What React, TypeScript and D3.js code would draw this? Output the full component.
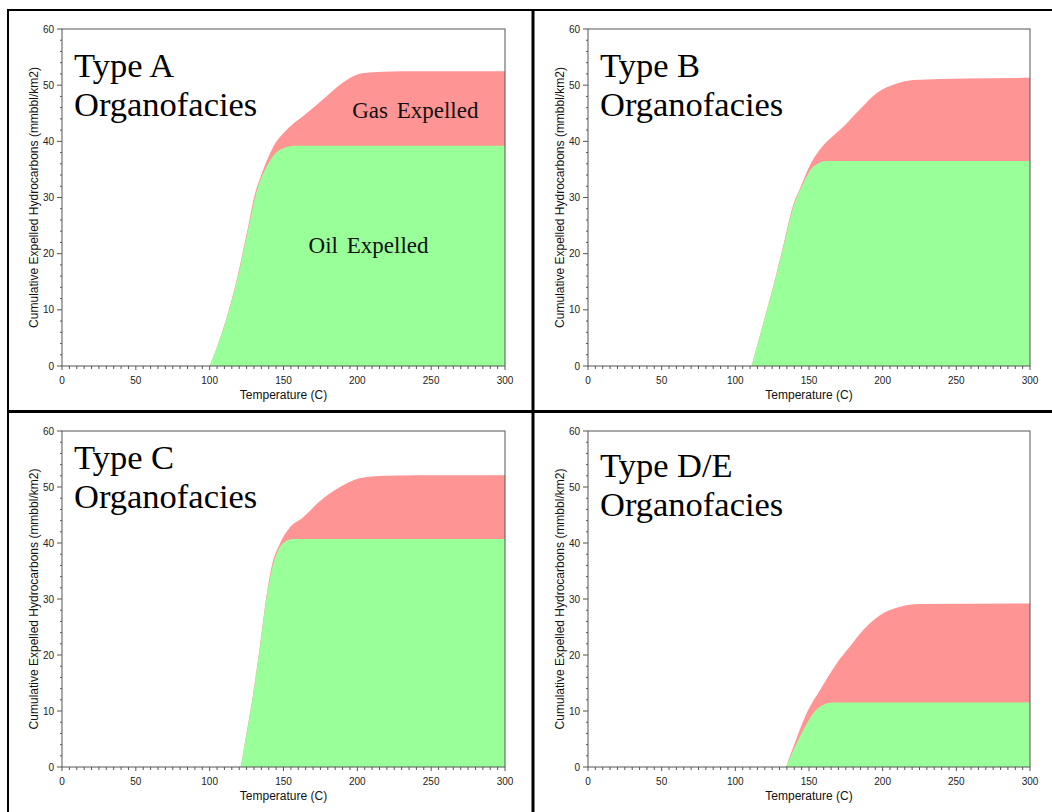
import React from "react";
import * as d3 from "d3";

// Axis ticks
const temperatureTicks = [0, 50, 100, 150, 200, 250, 300];
const hydrocarbonTicks = [0, 10, 20, 30, 40, 50, 60];

// Cumulative expelled oil and total (oil + gas) curves, [temperature °C, mmbbl/km2]
const typeAOil: [number, number][] = [
  [100, 0], [109, 6.4], [118, 14.7], [125, 23], [132, 31.3], [138.6, 35.5],
  [147.6, 38.5], [157.8, 39.2], [300, 39.2],
];
const typeATotal: [number, number][] = [
  [100, 0], [109, 6.5], [118, 15], [125, 23.5], [131, 31], [134, 33.3],
  [143, 39], [152, 42], [165.7, 45], [179, 48], [192.8, 50.9], [203, 52.1],
  [217.6, 52.4], [230, 52.5], [300, 52.5],
];

const typeBOil: [number, number][] = [
  [111, 0], [119, 7.6], [125.8, 14.1], [132.6, 21.2], [139.4, 28.4],
  [146.1, 32.5], [152.9, 35.5], [162, 36.5], [300, 36.5],
];
const typeBTotal: [number, number][] = [
  [111, 0], [119, 7.7], [125.8, 14.3], [132.6, 21.5], [139.4, 28.8],
  [143.9, 31.6], [150.7, 35.8], [157.5, 38.6], [166.5, 41], [173.3, 42.6],
  [184.6, 45.7], [196, 48.6], [209.6, 50.3], [220.9, 50.9], [257, 51.2], [300, 51.3],
];

const typeCOil: [number, number][] = [
  [121, 0], [125, 6], [129.6, 13.2], [134.1, 21.5], [138.6, 30.4], [142, 35.2],
  [146.5, 38.75], [152.2, 40.4], [156.6, 40.7], [300, 40.7],
];
const typeCTotal: [number, number][] = [
  [121, 0], [125, 6.1], [129.6, 13.4], [134.1, 21.8], [138.6, 30.8], [142, 35.8],
  [147.6, 39.9], [154.4, 42.8], [163.4, 44.6], [174.7, 47.5], [188.3, 50],
  [204, 51.7], [219.8, 52], [240, 52.1], [300, 52.1],
];

const typeDEOil: [number, number][] = [
  [134.4, 0], [139.4, 3], [146.1, 6.6], [152.9, 9.6], [159.7, 11.1],
  [166.5, 11.5], [300, 11.5],
];
const typeDETotal: [number, number][] = [
  [134.4, 0], [139.4, 3.6], [148.4, 9.6], [157.5, 13.75], [168.8, 18.5],
  [177.8, 21.5], [186.9, 24.5], [198.2, 27.1], [211.8, 28.6], [225.3, 29.1],
  [300, 29.2],
];

const panelTitles = ["Type A", "Type B", "Type C", "Type D/E"];
const subtitle = "Organofacies";

const OIL_COLOR = "#99ff99";
const GAS_COLOR = "#ff9494";
const AXIS_COLOR = "#555";

interface PanelProps {
  left: number;
  right: number;
  top: number;
  bottom: number;
  title: string;
  titleY: number;
  oil: [number, number][];
  total: [number, number][];
  showLabels?: boolean;
}

function Panel({ left, right, top, bottom, title, titleY, oil, total, showLabels }: PanelProps) {
  const x = d3.scaleLinear().domain([0, 300]).range([left, right]);
  const y = d3.scaleLinear().domain([0, 60]).range([bottom, top]);
  const area = d3
    .area<[number, number]>()
    .x((d) => x(d[0]))
    .y0(y(0))
    .y1((d) => y(d[1]))
    .curve(d3.curveMonotoneX);

  const xMinor = d3.range(0, 301, 5);
  const yMinor = d3.range(0, 61, 2);

  return (
    <g>
      <path d={area(total) ?? ""} fill={GAS_COLOR} />
      <path d={area(oil) ?? ""} fill={OIL_COLOR} />

      {/* frame */}
      <rect x={left} y={top} width={right - left} height={bottom - top} fill="none" stroke={AXIS_COLOR} strokeWidth={1} />

      {/* x axis ticks */}
      {xMinor.map((t) => (
        <line key={"xm" + t} x1={x(t)} x2={x(t)} y1={bottom} y2={bottom + (t % 50 === 0 ? 4 : 3)} stroke={AXIS_COLOR} strokeWidth={1} />
      ))}
      {temperatureTicks.map((t) => (
        <text key={"xl" + t} x={x(t)} y={bottom + 18} textAnchor="middle" fontFamily="Arial, 'Liberation Sans', sans-serif" fontSize={10} fill="#222">
          {t}
        </text>
      ))}

      {/* y axis ticks */}
      {yMinor.map((v) => (
        <line key={"ym" + v} x1={left} x2={left - (v % 10 === 0 ? 5 : 2)} y1={y(v)} y2={y(v)} stroke={AXIS_COLOR} strokeWidth={1} />
      ))}
      {hydrocarbonTicks.map((v) => (
        <text key={"yl" + v} x={left - 8} y={y(v) + 3.5} textAnchor="end" fontFamily="Arial, 'Liberation Sans', sans-serif" fontSize={10} fill="#222">
          {v}
        </text>
      ))}

      {/* axis titles */}
      <text x={(left + right) / 2} y={bottom + 33} textAnchor="middle" fontFamily="Arial, 'Liberation Sans', sans-serif" fontSize={12} fill="#111">
        Temperature (C)
      </text>
      <text
        transform={`translate(${left - 24},${(top + bottom) / 2}) rotate(-90)`}
        textAnchor="middle"
        fontFamily="Arial, 'Liberation Sans', sans-serif"
        fontSize={12}
        fill="#111"
      >
        Cumulative Expelled Hydrocarbons (mmbbl/km2)
      </text>

      {/* panel title */}
      <text x={left + 12} y={titleY} fontFamily="'Times New Roman', 'Liberation Serif', serif" fontSize={34.5} fill="#000">
        {title}
      </text>
      <text x={left + 12} y={titleY + 39} fontFamily="'Times New Roman', 'Liberation Serif', serif" fontSize={34.5} fill="#000">
        {subtitle}
      </text>

      {showLabels && (
        <g fontFamily="'Times New Roman', 'Liberation Serif', serif" fontSize={23} fill="#111" wordSpacing={3}>
          <text x={x(196.5)} y={y(44.2)}>Gas Expelled</text>
          <text x={x(167)} y={y(20.2)}>Oil Expelled</text>
        </g>
      )}
    </g>
  );
}

export default function App() {
  return (
    <div style={{ position: "absolute", left: 0, top: 0 }}>
      <svg width={1052} height={812} style={{ display: "block", background: "#fff" }}>
        <rect width={1052} height={812} fill="#fff" />
        <Panel left={62} right={505} top={29} bottom={366} title={panelTitles[0]} titleY={77} oil={typeAOil} total={typeATotal} showLabels />
        <Panel left={588} right={1030} top={29} bottom={366} title={panelTitles[1]} titleY={77} oil={typeBOil} total={typeBTotal} />
        <Panel left={62} right={505} top={431} bottom={767} title={panelTitles[2]} titleY={469} oil={typeCOil} total={typeCTotal} />
        <Panel left={588} right={1030} top={431} bottom={767} title={panelTitles[3]} titleY={477} oil={typeDEOil} total={typeDETotal} />

        {/* panel dividers */}
        <line x1={8} x2={1052} y1={10} y2={10} stroke="#000" strokeWidth={2} />
        <line x1={8} x2={8} y1={9} y2={812} stroke="#000" strokeWidth={2} />
        <line x1={533} x2={533} y1={9} y2={812} stroke="#000" strokeWidth={3} />
        <line x1={8} x2={1052} y1={411.5} y2={411.5} stroke="#000" strokeWidth={3} />
      </svg>
    </div>
  );
}
